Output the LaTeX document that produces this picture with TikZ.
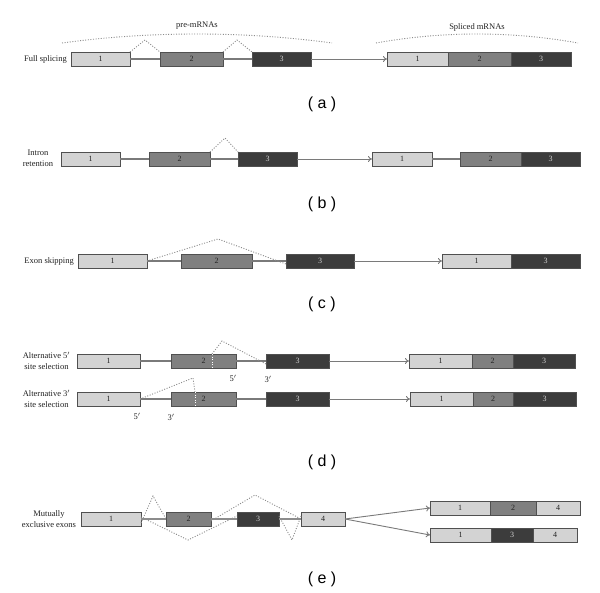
\documentclass[tikz,border=0pt]{standalone}
\usepackage{fontspec}
\setmainfont{Liberation Serif}
\newfontfamily\labsans{Liberation Sans}
\usetikzlibrary{arrows.meta}
\definecolor{exL}{HTML}{D3D3D3}
\definecolor{exM}{HTML}{808080}
\definecolor{exD}{HTML}{3C3C3C}
\definecolor{edge}{HTML}{505050}
\definecolor{intr}{HTML}{7A7A7A}
\definecolor{spl}{HTML}{8C8C8C}
\definecolor{txt}{HTML}{222222}
\tikzset{
  exon/.style={draw=edge, line width=0.9pt, inner sep=0pt, outer sep=0pt,
    minimum height=14pt, font=\fontsize{8}{9}\selectfont, text=txt},
  exl/.style={exon, fill=exL},
  exm/.style={exon, fill=exM},
  exd/.style={exon, fill=exD, text=exL},
  intron/.style={draw=intr, line width=1.1pt},
  splice/.style={draw=spl, line width=0.9pt, dash pattern=on 1pt off 1.6pt},
  wsplice/.style={draw=white, line width=0.9pt, dash pattern=on 1pt off 1.6pt},
  arr/.style={draw=intr, line width=0.9pt, -{To[length=4pt,width=6pt]}},
  rowlab/.style={font=\fontsize{8.5}{11}\selectfont, text=txt, align=center, inner sep=0pt},
  prime/.style={font=\fontsize{8.5}{10}\selectfont, text=txt, inner sep=0pt},
  panel/.style={font=\labsans\fontsize{16}{18}\selectfont, text=black, inner sep=0pt},
}
\newcommand{\exon}[6]{\node[#5, minimum width={(#3-#2)*1pt}] (#1) at ({(#2+#3)/2},#4) {#6};}
\begin{document}
\begin{tikzpicture}[x=1pt,y=-1pt]
\useasboundingbox[fill=white] (0,0) rectangle (600,593);

% ---------------- (a) ----------------
\node[rowlab, anchor=east] (la) at (67,59) {Full splicing};
\exon{a1}{71}{130}{59}{exl}{1}
\exon{a2}{160}{223}{59}{exm}{2}
\exon{a3}{252}{311}{59}{exd}{3}
\exon{sa1}{387}{448}{59}{exl}{1}
\exon{sa2}{448}{511}{59}{exm}{2}
\exon{sa3}{511}{571}{59}{exd}{3}
\draw[intron] (a1.east) -- (a2.west);
\draw[intron] (a2.east) -- (a3.west);
\draw[arr] (a3.east) -- (sa1.west);
\coordinate (pa1) at (145,40);
\coordinate (pa2) at (237,40);
\draw[splice] (a1.north east) -- (pa1) -- (a2.north west);
\draw[splice] (a2.north east) -- (pa2) -- (a3.north west);
\coordinate (pre1) at (62,43); \coordinate (pre2) at (332,43);
\draw[splice] (pre1) .. controls (150,31) and (244,31) .. (pre2);
\node[rowlab] (pre) at (197,26) {pre-mRNAs};
\coordinate (sp1) at (376,43); \coordinate (sp2) at (578,43);
\draw[splice] (sp1) .. controls (443,31) and (511,31) .. (sp2);
\node[rowlab] (spl) at (477,27) {Spliced mRNAs};
\node[panel] (pa) at (322,104) {( a )};

% ---------------- (b) ----------------
\node[rowlab] (lb) at (38,158) {Intron\\retention};
\exon{b1}{61}{120}{159}{exl}{1}
\exon{b2}{149}{210}{159}{exm}{2}
\exon{b3}{238}{297}{159}{exd}{3}
\exon{sb1}{372}{432}{159}{exl}{1}
\exon{sb2}{460}{521}{159}{exm}{2}
\exon{sb3}{521}{580}{159}{exd}{3}
\draw[intron] (b1.east) -- (b2.west);
\draw[intron] (b2.east) -- (b3.west);
\draw[arr] (b3.east) -- (sb1.west);
\draw[intron] (sb1.east) -- (sb2.west);
\coordinate (pb) at (225,138);
\draw[splice] (b2.north east) -- (pb) -- (b3.north west);
\node[panel] (pbl) at (322,204) {( b )};

% ---------------- (c) ----------------
\node[rowlab, anchor=east] (lc) at (74,261) {Exon skipping};
\exon{c1}{78}{147}{261}{exl}{1}
\exon{c2}{181}{252}{261}{exm}{2}
\exon{c3}{286}{354}{261}{exd}{3}
\exon{sc1}{442}{511}{261}{exl}{1}
\exon{sc3}{511}{580}{261}{exd}{3}
\draw[intron] (c1.east) -- (c2.west);
\draw[intron] (c2.east) -- (c3.west);
\draw[arr] (c3.east) -- (sc1.west);
\coordinate (pc) at (218,239);
\draw[splice] (c1.east) -- (pc) -- ([yshift=-3pt]c3.west);
\node[panel] (pcl) at (322,304) {( c )};

% ---------------- (d) top ----------------
\node[rowlab] (ld1) at (46.5,361) {Alternative 5$'$\\site selection};
\exon{d1}{77}{140}{361}{exl}{1}
\exon{d2}{171}{236}{361}{exm}{2}
\exon{d3}{266}{329}{361}{exd}{3}
\exon{sd1}{409}{472}{361}{exl}{1}
\exon{sd2}{472}{513}{361}{exm}{2}
\exon{sd3}{513}{575}{361}{exd}{3}
\draw[intron] (d1.east) -- (d2.west);
\draw[intron] (d2.east) -- (d3.west);
\draw[arr] (d3.east) -- (sd1.west);
\coordinate (wd1) at (212,354);
\coordinate (wd1b) at (212,368);
\draw[wsplice] (wd1) -- (wd1b);
\coordinate (pd1) at (222,341);
\draw[splice] (wd1) -- (pd1) -- ([yshift=-3pt]d3.west);
\node[prime] (d5) at (233,378) {5$'$};
\node[prime] (d3p) at (268,379) {3$'$};

% ---------------- (d) bottom ----------------
\node[rowlab] (ld2) at (46.5,399) {Alternative 3$'$\\site selection};
\exon{e1}{77}{140}{399}{exl}{1}
\exon{e2}{171}{236}{399}{exm}{2}
\exon{e3}{266}{329}{399}{exd}{3}
\exon{se1}{410}{473}{399}{exl}{1}
\exon{se2}{473}{513}{399}{exm}{2}
\exon{se3}{513}{576}{399}{exd}{3}
\draw[intron] (e1.east) -- (e2.west);
\draw[intron] (e2.east) -- (e3.west);
\draw[arr] (e3.east) -- (se1.west);
\coordinate (we1) at (195,392);
\coordinate (we1b) at (195,406);
\draw[wsplice] (we1) -- (we1b);
\coordinate (pe1) at (193,378);
\draw[splice] (e1.east) -- (pe1) -- (we1);
\node[prime] (e5) at (137,416) {5$'$};
\node[prime] (e3p) at (171,417) {3$'$};
\node[panel] (pd) at (322,462) {( d )};

% ---------------- (e) ----------------
\node[rowlab] (le) at (49,519) {Mutually\\exclusive exons};
\exon{m1}{81}{141}{519}{exl}{1}
\exon{m2}{166}{211}{519}{exm}{2}
\exon{m3}{237}{279}{519}{exd}{3}
\exon{m4}{301}{345}{519}{exl}{4}
\exon{t1}{430}{490}{508}{exl}{1}
\exon{t2}{490}{536}{508}{exm}{2}
\exon{t4}{536}{580}{508}{exl}{4}
\exon{u1}{430}{491}{535}{exl}{1}
\exon{u3}{491}{533}{535}{exd}{3}
\exon{u4}{533}{577}{535}{exl}{4}
\draw[intron, draw=spl, line width=1.6pt] (m1.east) -- (m2.west);
\draw[intron, draw=spl, line width=1.6pt] (m2.east) -- (m3.west);
\draw[intron, draw=spl, line width=1.6pt] (m3.east) -- (m4.west);
\draw[arr] (m4.east) -- (t1.west);
\draw[arr] (m4.east) -- (u1.west);
\coordinate (q1) at (153,496);
\coordinate (q2) at (255,495);
\coordinate (q3) at (188,540);
\coordinate (q4) at (292,540);
\draw[splice] ([yshift=-4pt]m1.east) -- (q1) -- (m2.west);
\draw[splice] ([yshift=-2pt]m2.east) -- (q2) -- (m4.west);
\draw[splice] ([yshift=2pt]m1.east) -- (q3) -- ([yshift=3pt]m3.west);
\draw[splice] ([yshift=3pt]m3.east) -- (q4) -- ([yshift=3pt]m4.west);
\node[panel] (pe) at (322,579) {( e )};
\end{tikzpicture}
\end{document}
